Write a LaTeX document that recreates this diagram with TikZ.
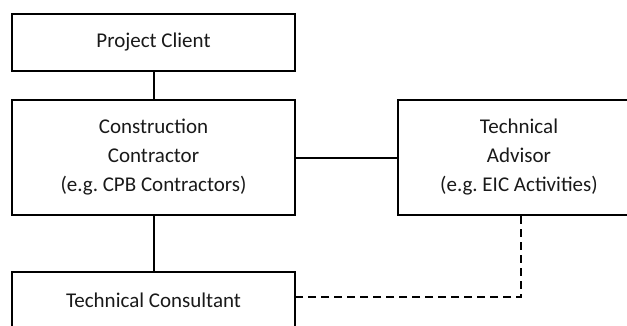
\documentclass[tikz,border=0pt]{standalone}
\usepackage{fontspec}
\setmainfont{Carlito}
\frenchspacing
\begin{document}
\begin{tikzpicture}[x=1pt,y=-1pt,
  box/.style={draw=black,line width=2pt,rectangle,inner sep=0pt,align=center,
    font=\fontsize{21}{29}\selectfont,text=black!90},
  lbl/.style={inner sep=0pt,align=center,font=\fontsize{21}{29}\selectfont,text=black!90},
  link/.style={draw=black,line width=2pt},
  dlink/.style={draw=black,line width=2pt,dash pattern=on 8pt off 5pt}]
\useasboundingbox (0,0) rectangle (627,325);
\begin{scope}
\clip (0,0) rectangle (627,325);
\node[box,minimum width=283pt,minimum height=57pt] (pc) at (153.5,42.5) {Project Client};
\node[box,minimum width=283pt,minimum height=115pt] (cc) at (153.5,157.5) {Construction\\Contractor\\(e.g. CPB Contractors)};
\node[box,minimum width=300pt,minimum height=115pt,anchor=west] (ta) at (397,157.5) {};
\node[lbl] (tat) at (519,157.5) {Technical\\Advisor\\(e.g. EIC Activities)};
\node[box,minimum width=283pt,minimum height=57pt] (tc) at (153.5,300.5) {Technical Consultant};
\coordinate (k) at (521,297);
\draw[link] (pc.south) -- (cc.north);
\draw[link] (cc.east) -- (ta.west);
\draw[link] (cc.south) -- (tc.north);
\draw[dlink] (ta.south -| k) -- (k) -- (tc.east |- k);
\end{scope}
\end{tikzpicture}
\end{document}
